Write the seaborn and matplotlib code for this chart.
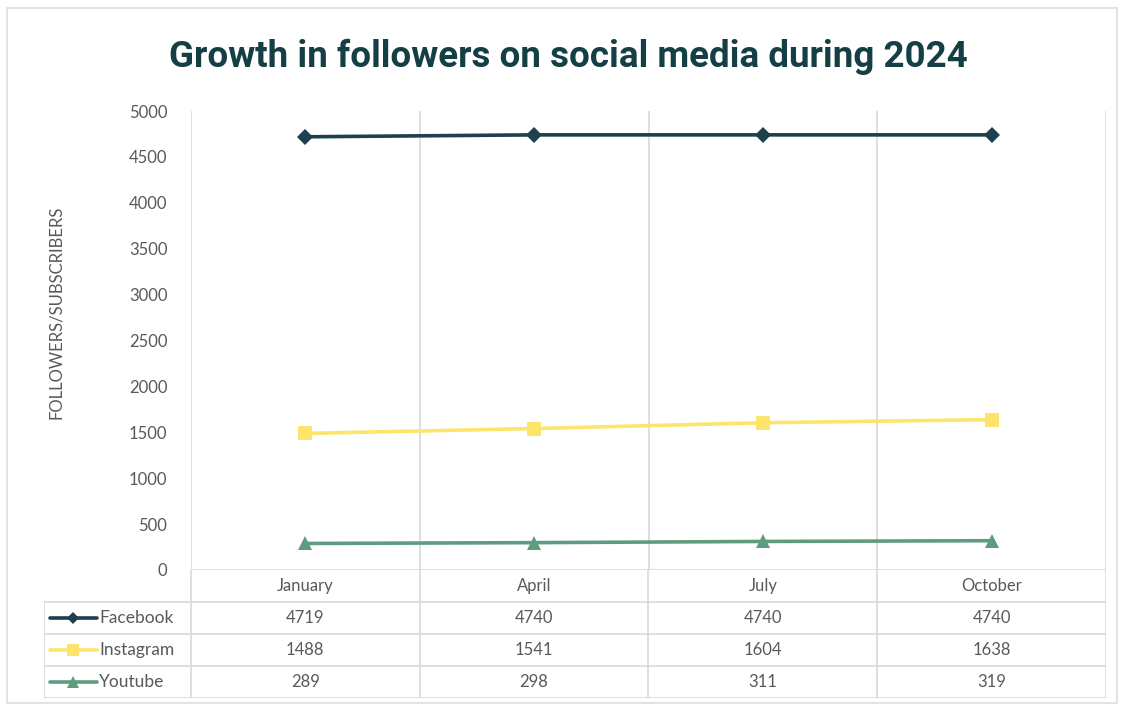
import pandas as pd
import matplotlib.pyplot as plt
import seaborn as sns
from matplotlib.patches import Rectangle

# -----------------------------
# Data
# -----------------------------
months = ["January", "April", "July", "October"]
platforms = ["Facebook", "Instagram", "Youtube"]
facebook = [4719, 4740, 4740, 4740]
instagram = [1488, 1541, 1604, 1638]
youtube = [289, 298, 311, 319]
y_ticks = list(range(0, 5001, 500))

colors = {"Facebook": "#1d3f4e", "Instagram": "#fde46a", "Youtube": "#5e9c7f"}
markers = {"Facebook": "D", "Instagram": "s", "Youtube": "^"}
msizes = {"Facebook": 8, "Instagram": 10, "Youtube": 10}

df = pd.DataFrame({
    "month": months * 3,
    "platform": ["Facebook"] * 4 + ["Instagram"] * 4 + ["Youtube"] * 4,
    "value": facebook + instagram + youtube,
})

sns.set_theme(style="white")
plt.rcParams["font.family"] = ["Lato", "DejaVu Sans"]
grey = "#595959"
line_grey = "#d9d9d9"

fig = plt.figure(figsize=(11.24, 7.07), dpi=100)
fig.patches.append(Rectangle((0.006, 0.006), 0.988, 0.982, transform=fig.transFigure,
                             fill=False, edgecolor="#e3e3e3", linewidth=1.5))

# -----------------------------
# Line chart
# -----------------------------
ax = fig.add_axes([191 / 1124, 137 / 707, 915 / 1124, 459 / 707])
for p in platforms:
    sub = df[df["platform"] == p]
    sns.lineplot(data=sub, x="month", y="value", ax=ax, color=colors[p],
                 marker=markers[p], markersize=msizes[p], markeredgewidth=0,
                 linewidth=2.6, legend=False)

ax.set_xlim(-0.5, 3.5)
ax.set_ylim(0, 5000)
ax.set_yticks(y_ticks)
ax.set_yticklabels([str(t) for t in y_ticks], color=grey, fontsize=12)
ax.set_xticks([])
for x in [-0.5, 0.5, 1.5, 2.5, 3.5]:
    ax.axvline(x, color=line_grey, linewidth=1.2, zorder=0)
ax.axhline(0, color=line_grey, linewidth=1.2, zorder=0)
ax.tick_params(axis="y", length=0, pad=17)
for s in ax.spines.values():
    s.set_visible(False)
ax.set_xlabel("")
ax.set_ylabel("FOLLOWERS/SUBSCRIBERS", color=grey, fontsize=12)
ax.yaxis.set_label_coords(-0.139, 0.562)

# -----------------------------
# Data table below the chart
# -----------------------------
left = -0.5 - 147 / 229
tab = fig.add_axes([44 / 1124, 9 / 707, 1062 / 1124, 128 / 707])
tab.set_xlim(left, 3.5)
tab.set_ylim(4, 0)
tab.axis("off")
for yy in [1, 2, 3, 4]:
    tab.plot([left, 3.5], [yy, yy], color=line_grey, linewidth=1.2)
tab.plot([left, left], [1, 4], color=line_grey, linewidth=1.2)
for x in [-0.5, 0.5, 1.5, 2.5, 3.5]:
    tab.plot([x, x], [0, 4], color=line_grey, linewidth=1.2)

for i, m in enumerate(months):
    tab.text(i, 0.5, m, ha="center", va="center", color=grey, fontsize=12)

series = {"Facebook": facebook, "Instagram": instagram, "Youtube": youtube}
for r, p in enumerate(platforms):
    yy = r + 1.5
    for i, v in enumerate(series[p]):
        tab.text(i, yy, str(v), ha="center", va="center", color=grey, fontsize=12)
    tab.plot([-1.116, -0.910], [yy, yy], color=colors[p], linewidth=2.6)
    tab.plot([-1.015], [yy], color=colors[p], marker=markers[p],
             markersize=msizes[p] * 0.8, markeredgewidth=0)
    tab.text(-0.902, yy, p, ha="left", va="center", color=grey, fontsize=12.5)

# -----------------------------
# Title
# -----------------------------
fig.text(0.506, 0.92, "Growth in followers on social media during 2024",
         ha="center", va="center", color="#143f45", fontsize=26.5,
         fontweight="bold", family=["Roboto", "DejaVu Sans"])

fig.savefig("out.png", dpi=100)
